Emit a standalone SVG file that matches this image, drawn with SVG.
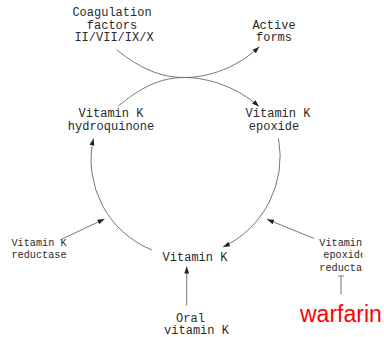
<svg xmlns="http://www.w3.org/2000/svg" width="384" height="337" viewBox="0 0 384 337">
<defs>
<style>
.lbl{font-family:"Liberation Mono","DejaVu Sans Mono",monospace;font-size:12px;fill:#2a2a2a;text-anchor:middle}
.enz{font-family:"Liberation Mono","DejaVu Sans Mono",monospace;font-size:10.2px;fill:#2a2a2a}
.edge{fill:none;stroke:#666;stroke-width:0.9}
.drug{font-family:"Liberation Sans",Arial,sans-serif;font-size:23px;fill:#ff0000}
</style>
<marker id="ah" viewBox="0 0 10 10" refX="10" refY="5" markerWidth="7" markerHeight="7" markerUnits="userSpaceOnUse" orient="auto">
<path d="M0,1.5 L10,5 L0,8.5 Z" fill="#222"/>
</marker>
<clipPath id="clipR"><rect x="0" y="0" width="362.5" height="337"/></clipPath>
</defs>
<rect width="384" height="337" fill="#fff"/>
<g id="coag"><text class="lbl" x="112" y="15.7">Coagulation</text><text class="lbl" x="112" y="28.7">factors</text><text class="lbl" x="114" y="41.3">II/VII/IX/X</text></g>
<g id="active"><text class="lbl" x="274" y="28.7">Active</text><text class="lbl" x="274" y="41.3">forms</text></g>
<g id="hydroquinone"><text class="lbl" x="111" y="117.4">Vitamin K</text><text class="lbl" x="111" y="130.2">hydroquinone</text></g>
<g id="epoxide"><text class="lbl" x="278" y="117.4">Vitamin K</text><text class="lbl" x="274" y="130.2">epoxide</text></g>
<g id="vitk"><text class="lbl" x="195" y="260.7">Vitamin K</text></g>
<g id="oral"><text class="lbl" x="190.5" y="321.6">Oral</text><text class="lbl" x="196.5" y="334.4">vitamin K</text></g>
<g id="reductase"><text class="enz" x="11.5" y="246">Vitamin K</text><text class="enz" x="11.5" y="258.3">reductase</text></g>
<g id="vkor" clip-path="url(#clipR)"><text class="enz" x="319.3" y="246">Vitamin</text><text class="enz" x="323.3" y="258.3">epoxide</text><text class="enz" x="319.3" y="270.6">reducta</text></g>
<g id="warfarin"><text class="drug" x="300" y="321.5">warfarin</text></g>
<g id="connectors">
<path class="edge" d="M116.7,50 C140,68 160,77.5 184,77.5 C210,77.5 238,88 259,106.5" marker-end="url(#ah)"/>
<path class="edge" d="M118.3,106 C140,88 160,77.5 184,77.5 C210,77.5 238,67 259.3,46.7" marker-end="url(#ah)"/>
<path class="edge" d="M278.5,138.5 A100,100 0 0 1 223,247" marker-end="url(#ah)"/>
<path class="edge" d="M152,250 A97,97 0 0 1 93.5,138.5" marker-end="url(#ah)"/>
<line class="edge" x1="60" y1="240" x2="104.5" y2="219" marker-end="url(#ah)"/>
<line class="edge" x1="314" y1="238.5" x2="267" y2="219.3" marker-end="url(#ah)"/>
<line class="edge" x1="186.7" y1="305.5" x2="186.7" y2="266.5" marker-end="url(#ah)"/>
<line class="edge" x1="341" y1="276" x2="341" y2="294.5"/>
<line class="edge" x1="338" y1="276" x2="344" y2="276"/>
</g>
</svg>
